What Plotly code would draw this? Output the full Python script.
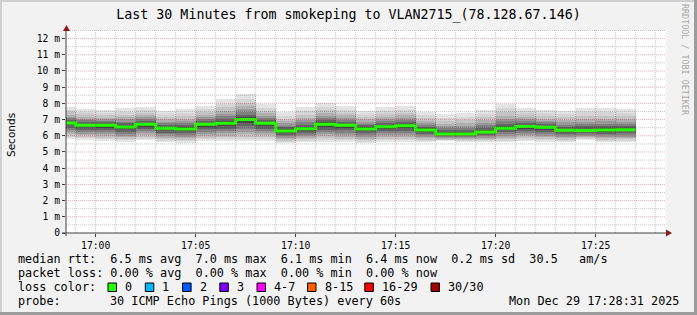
import numpy as np
import pandas as pd
import plotly.graph_objects as go

# ---------------- data ----------------
start_time = "2025-12-29 16:58:00"
n_steps = 29  # one-minute steps 16:58 .. 17:26
median_ms = [6.79, 6.65, 6.65, 6.54, 6.71, 6.46, 6.42, 6.71, 6.77, 7.00,
             6.77, 6.30, 6.44, 6.71, 6.65, 6.42, 6.56, 6.62, 6.36, 6.11,
             6.11, 6.24, 6.46, 6.58, 6.52, 6.34, 6.32, 6.36, 6.38]
max_ms = [7.78, 7.67, 7.57, 7.71, 7.78, 7.51, 7.63, 7.86, 8.25, 8.57,
          7.95, 7.45, 7.76, 8.01, 7.82, 7.56, 7.76, 7.84, 7.47, 7.32,
          7.41, 7.62, 7.96, 7.71, 7.57, 7.55, 7.71, 7.71, 7.63]
min_ms = [5.80, 5.75, 5.70, 5.62, 5.72, 5.60, 5.58, 5.68, 5.68, 5.68,
          5.70, 5.56, 5.62, 5.62, 5.62, 5.56, 5.62, 5.62, 5.62, 5.68,
          5.64, 5.62, 5.62, 5.68, 5.62, 5.62, 5.76, 5.62, 5.62]
y_tick_vals = list(range(0, 13))
y_tick_text = ["0"] + [f"{v} m" for v in range(1, 13)]
title_text = "Last 30 Minutes from smokeping to VLAN2715_(78.128.67.146)"
legend_rows = [
    "median rtt:  6.5 ms avg  7.0 ms max  6.1 ms min  6.4 ms now  0.2 ms sd  30.5   am/s",
    "packet loss: 0.00 % avg  0.00 % max  0.00 % min  0.00 % now",
]
loss_labels = ["0", "1", "2", "3", "4-7", "8-15", "16-29", "30/30"]
loss_colors = ["#26ff00", "#00b8ff", "#0059ff", "#7e00ff", "#ff00ff", "#ff5e00", "#ff0000", "#a10000"]
probe_text = "30 ICMP Echo Pings (1000 Bytes) every 60s"
stamp_text = "Mon Dec 29 17:28:31 2025"
x_range = ["2025-12-29 16:58:31", "2025-12-29 17:28:31"]
y_range = [0, 12.53]

# ---------------- geometry helpers ----------------
W, H = 697, 315
ML, MR, MT, MB = 66, 31, 30, 82
PW, PH = W - ML - MR, H - MT - MB


def px(x):
    return (x - ML) / PW


def py(y):
    return (H - MB - y) / PH


MONO = "DejaVu Sans Mono"

times = pd.date_range(start_time, periods=n_steps, freq="60s")
centers = times + pd.Timedelta(seconds=30)
med = np.array(median_ms)
hi = np.array(max_ms)
lo = np.array(min_ms)

fig = go.Figure()

# smoke layers (outer light -> inner dark)
up_frac = [1.0, 0.82, 0.66, 0.52, 0.40, 0.29, 0.19, 0.09]
dn_frac = [1.0, 0.90, 0.80, 0.69, 0.57, 0.44, 0.30, 0.15]
shades = ["#e4e4e4", "#d5d5d5", "#c4c4c4", "#b0b0b0", "#999999", "#808080", "#646464", "#474747"]
for fu, fd, col in zip(up_frac, dn_frac, shades):
    top = med + (hi - med) * fu
    bot = med - (med - lo) * fd
    fig.add_trace(go.Bar(x=centers, y=top - bot, base=bot, width=60000,
                         marker=dict(color=col, line=dict(width=0)),
                         showlegend=False, hoverinfo="skip"))

# median line (loss color 0)
line_x = list(times) + [times[-1] + pd.Timedelta(seconds=60)]
line_y = list(med) + [med[-1]]
fig.add_trace(go.Scatter(x=line_x, y=line_y, mode="lines", line_shape="hv",
                         line=dict(color="#26ff00", width=3),
                         showlegend=False, hoverinfo="skip"))

shapes = []
# grid drawn above the smoke, as in rrdtool
minor_col = "rgba(0,0,0,0.22)"
major_col = "rgba(210,40,40,0.38)"
grid_minutes = pd.date_range("2025-12-29 16:59:00", "2025-12-29 17:28:00", freq="60s")
for t in grid_minutes:
    major = t.minute % 5 == 0
    shapes.append(dict(type="line", xref="x", yref="paper", x0=t, x1=t, y0=0, y1=1,
                       line=dict(color=major_col if major else minor_col, width=1, dash="1px,1px"),
                       layer="above"))
for k in range(1, 26):
    v = k * 0.5
    major = k % 2 == 0
    shapes.append(dict(type="line", xref="paper", yref="y", x0=0, x1=1, y0=v, y1=v,
                       line=dict(color=major_col if major else minor_col, width=1, dash="1px,1px"),
                       layer="above"))

axis_col = "#404040"
arrow_col = "#8b1a1a"
# axes
shapes.append(dict(type="line", xref="paper", yref="paper", x0=px(62), x1=px(668), y0=0, y1=0,
                   line=dict(color=axis_col, width=1), layer="above"))
shapes.append(dict(type="line", xref="paper", yref="paper", x0=0, x1=0, y0=py(236), y1=py(29),
                   line=dict(color=axis_col, width=1), layer="above"))
# arrows
shapes.append(dict(type="path", xref="paper", yref="paper",
                   path=f"M {px(66.5)} {py(25)} L {px(63)} {py(31)} L {px(70)} {py(31)} Z",
                   fillcolor=arrow_col, line=dict(width=0), layer="above"))
shapes.append(dict(type="path", xref="paper", yref="paper",
                   path=f"M {px(672)} {py(233)} L {px(666)} {py(229.5)} L {px(666)} {py(236.5)} Z",
                   fillcolor=arrow_col, line=dict(width=0), layer="above"))

# frame around the whole image
shapes.append(dict(type="rect", xref="paper", yref="paper", x0=px(0), x1=px(W), y0=py(0), y1=py(2),
                   fillcolor="#d0d0d0", line=dict(width=0)))
shapes.append(dict(type="rect", xref="paper", yref="paper", x0=px(0), x1=px(2), y0=py(0), y1=py(H),
                   fillcolor="#d0d0d0", line=dict(width=0)))
shapes.append(dict(type="rect", xref="paper", yref="paper", x0=px(W - 3), x1=px(W), y0=py(0), y1=py(H),
                   fillcolor="#9c9c9c", line=dict(width=0)))
shapes.append(dict(type="rect", xref="paper", yref="paper", x0=px(0), x1=px(W), y0=py(H - 3), y1=py(H),
                   fillcolor="#9c9c9c", line=dict(width=0)))

annotations = []
LEG_SIZE = 11.8
CW = 7.1
row_y = [259.3, 273.0, 287.0, 301.0]
for txt, yy in zip(legend_rows, row_y[:2]):
    annotations.append(dict(text=txt.replace(" ", "\u00a0"), xref="paper", yref="paper",
                            x=px(16), y=py(yy), xanchor="left", yanchor="middle", showarrow=False,
                            font=dict(family=MONO, size=LEG_SIZE, color="#000")))
annotations.append(dict(text="loss\u00a0color:", xref="paper", yref="paper",
                        x=px(16), y=py(row_y[2]), xanchor="left", yanchor="middle", showarrow=False,
                        font=dict(family=MONO, size=LEG_SIZE, color="#000")))
sq_x = [108, 145.3, 182.6, 219.8, 257.0, 307.5, 364.8, 431.0]
for sx, lab, col in zip(sq_x, loss_labels, loss_colors):
    shapes.append(dict(type="rect", xref="paper", yref="paper",
                       x0=px(sx), x1=px(sx + 8.5), y0=py(row_y[2] - 4), y1=py(row_y[2] + 4.5),
                       fillcolor=col, line=dict(color="#000", width=1)))
    annotations.append(dict(text=lab, xref="paper", yref="paper",
                            x=px(sx + 15), y=py(row_y[2]), xanchor="left", yanchor="middle",
                            showarrow=False, font=dict(family=MONO, size=LEG_SIZE, color="#000")))
annotations.append(dict(text="probe:", xref="paper", yref="paper",
                        x=px(16), y=py(row_y[3]), xanchor="left", yanchor="middle", showarrow=False,
                        font=dict(family=MONO, size=LEG_SIZE, color="#000")))
annotations.append(dict(text=probe_text.replace(" ", "\u00a0"), xref="paper", yref="paper",
                        x=px(16 + 13 * CW), y=py(row_y[3]), xanchor="left", yanchor="middle",
                        showarrow=False, font=dict(family=MONO, size=LEG_SIZE, color="#000")))
annotations.append(dict(text=stamp_text.replace(" ", "\u00a0"), xref="paper", yref="paper",
                        x=px(681), y=py(row_y[3]), xanchor="right", yanchor="middle",
                        showarrow=False, font=dict(family=MONO, size=LEG_SIZE, color="#000")))
# axis title
annotations.append(dict(text="Seconds", xref="paper", yref="paper", x=px(11), y=py(135),
                        xanchor="center", yanchor="middle", textangle=-90, showarrow=False,
                        font=dict(family="DejaVu Sans", size=10.5, color="#000")))
# watermark
annotations.append(dict(text="RRDTOOL\u00a0/\u00a0TOBI\u00a0OETIKER", xref="paper", yref="paper",
                        x=px(685), y=py(60), xanchor="center", yanchor="middle", textangle=90,
                        showarrow=False, font=dict(family=MONO, size=8.4, color="#aaaaaa")))

fig.update_layout(
    width=W, height=H,
    margin=dict(l=ML, r=MR, t=MT, b=MB, pad=0),
    paper_bgcolor="#f2f2f2", plot_bgcolor="#ffffff",
    barmode="overlay", bargap=0,
    showlegend=False,
    title=dict(text=title_text, x=0.5, xanchor="center", y=1 - 14 / H, yanchor="middle",
               font=dict(family=MONO, size=13.3, color="#000")),
    xaxis=dict(type="date", range=x_range, showgrid=False, zeroline=False, showline=False,
               tick0="2025-12-29 17:00:00", dtick=300000, tickformat="%H:%M",
               ticks="outside", ticklen=3, tickcolor=axis_col,
               tickfont=dict(family=MONO, size=9.7, color="#000"), fixedrange=True),
    yaxis=dict(range=y_range, showgrid=False, zeroline=False, showline=False,
               tickmode="array", tickvals=y_tick_vals, ticktext=y_tick_text,
               ticks="outside", ticklen=3, tickcolor=axis_col,
               tickfont=dict(family=MONO, size=9.7, color="#000"), fixedrange=True),
    shapes=shapes, annotations=annotations,
)

fig.write_html("out.html")
